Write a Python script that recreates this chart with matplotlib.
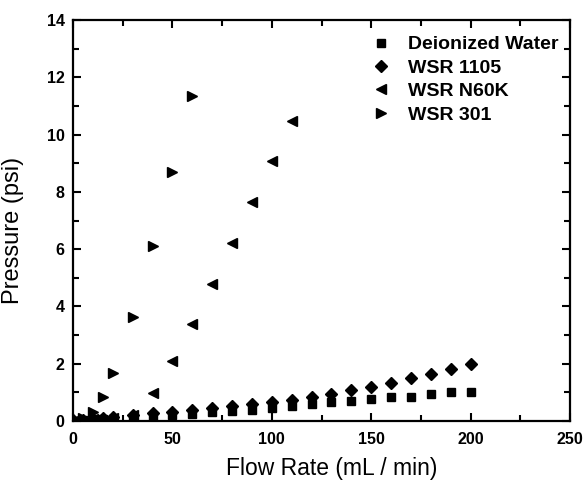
"""Drukval over flow rate voor gedeioniseerd water en drie WSR-oplossingen."""
import matplotlib
matplotlib.use("Agg")
import matplotlib.pyplot as plt
from matplotlib.ticker import MultipleLocator

# Flow rate (mL/min) en druk (psi)
x_water = [0, 5, 10, 15, 20, 30, 40, 50, 60, 70, 80, 90, 100, 110, 120,
           130, 140, 150, 160, 170, 180, 190, 200]
p_water = [0.0, 0.02, 0.04, 0.06, 0.08, 0.12, 0.17, 0.2, 0.25, 0.3, 0.35, 0.4,
           0.45, 0.52, 0.6, 0.66, 0.71, 0.76, 0.83, 0.85, 0.94, 1.0, 1.02]

x_1105 = x_water
p_1105 = [0.02, 0.05, 0.08, 0.1, 0.13, 0.2, 0.27, 0.33, 0.39, 0.45, 0.52, 0.58,
          0.65, 0.75, 0.85, 0.96, 1.08, 1.17, 1.33, 1.51, 1.63, 1.81, 1.99]

x_n60k = [0, 10, 20, 30, 40, 50, 60, 70, 80, 90, 100, 110]
p_n60k = [0.0, 0.06, 0.12, 0.2, 0.98, 2.09, 3.38, 4.77, 6.2, 7.63, 9.08, 10.49]

x_301 = [0, 5, 10, 15, 20, 30, 40, 50, 60]
p_301 = [0.0, 0.1, 0.3, 0.85, 1.67, 3.62, 6.1, 8.71, 11.36]

plt.rcParams["font.family"] = ["Liberation Sans", "DejaVu Sans"]

fig = plt.figure(figsize=(5.84, 4.82), dpi=100)
ax = fig.add_axes([73 / 584, 61 / 482, 497 / 584, 401 / 482])

ax.plot(x_water, p_water, "s", color="black", ms=6, ls="none", label="Deionized Water")
ax.plot(x_1105, p_1105, "D", color="black", ms=6, ls="none", label="WSR 1105")
ax.plot(x_n60k, p_n60k, "<", color="black", ms=7, ls="none", label="WSR N60K")
ax.plot(x_301, p_301, ">", color="black", ms=7, ls="none", label="WSR 301")

ax.set_xlim(0, 250)
ax.set_ylim(0, 14)
ax.xaxis.set_major_locator(MultipleLocator(50))
ax.xaxis.set_minor_locator(MultipleLocator(25))
ax.yaxis.set_major_locator(MultipleLocator(2))
ax.yaxis.set_minor_locator(MultipleLocator(1))
ax.tick_params(which="both", direction="in", top=True, right=True, width=1.5)
ax.tick_params(which="major", length=6, labelsize=11.5)
ax.tick_params(axis="x", which="major", pad=8)
ax.tick_params(axis="y", which="major", pad=6)
ax.tick_params(which="minor", length=4)
for lbl in ax.get_xticklabels() + ax.get_yticklabels():
    lbl.set_fontweight("bold")
for sp in ax.spines.values():
    sp.set_linewidth(1.6)

ax.set_xlabel("Flow Rate (mL / min)", fontsize=16.5, labelpad=6)
ax.set_ylabel("Pressure (psi)", fontsize=17, labelpad=8)
ax.xaxis.set_label_coords(0.52, -0.09)
ax.yaxis.set_label_coords(-0.098, 0.475)

ax.legend(loc="upper right", frameon=False, prop={"weight": "bold", "size": 14},
          handletextpad=0.8, labelspacing=0.3, borderaxespad=0,
          handlelength=1.2, bbox_to_anchor=(0.992, 0.98))

fig.savefig("out.png", dpi=100)
